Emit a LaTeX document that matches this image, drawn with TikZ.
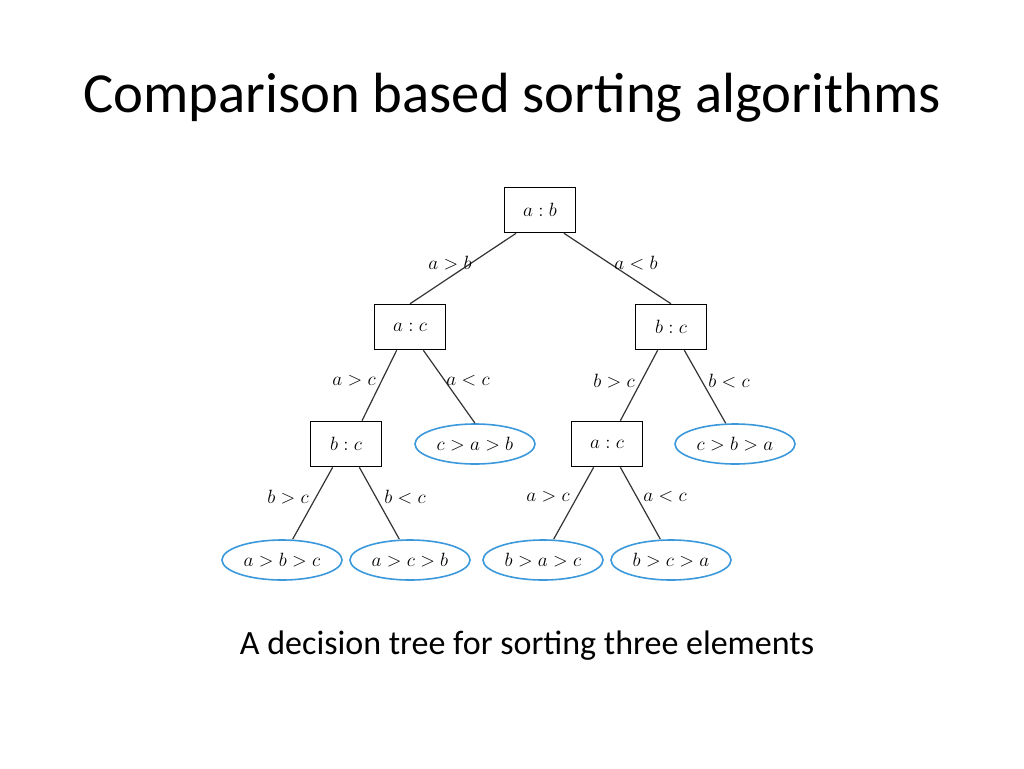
\documentclass[tikz,border=0pt]{standalone}
\usepackage{fontspec}
\setmainfont{Carlito}
\usetikzlibrary{shapes.geometric}
\begin{document}
\begin{tikzpicture}[x=0.75pt,y=-0.75pt,
  box/.style={draw,line width=0.9pt,minimum width=53pt,minimum height=34pt,inner sep=1pt,font=\fontsize{14}{16}\selectfont},
  leaf/.style={draw=cyan!70!blue!80,line width=1.2pt,ellipse,minimum width=90pt,minimum height=30pt,inner sep=0pt,font=\fontsize{14}{16}\selectfont},
  lab/.style={font=\fontsize{14}{16}\selectfont,inner sep=1pt},
  edge/.style={line width=0.9pt,draw=black!80}]
\useasboundingbox (0,0) rectangle (1024,768);
\node[font=\fontsize{42.5}{50}\selectfont] (title) at (512,98) {Comparison based sorting algorithms};
\node (r) [box] at (540,210) {$a:b$};
\node (l) [box] at (410,327) {$a:c$};
\node (rr) [box] at (671,327) {$b:c$};
\node (ll) [box] at (346,444) {$b:c$};
\node (lr) [leaf] at (475,444) {$c>a>b$};
\node (rl) [box] at (607,444) {$a:c$};
\node (rrr) [leaf] at (735,444) {$c>b>a$};
\node (l1) [leaf] at (282,560) {$a>b>c$};
\node (l2) [leaf] at (410,560) {$a>c>b$};
\node (l3) [leaf] at (543,560) {$b>a>c$};
\node (l4) [leaf] at (671,560) {$b>c>a$};
\draw[edge] (r.south west)++(12,0) -- ([xshift=27]l.north west);
\draw[edge] (r.south east)++(-12,0) -- ([xshift=-27]rr.north east);
\draw[edge] ([xshift=-10]l.south) -- ([xshift=12]ll.north);
\draw[edge] ([xshift=10]l.south) -- (lr.north);
\draw[edge] ([xshift=-10]rr.south) -- ([xshift=10]rl.north);
\draw[edge] ([xshift=10]rr.south) -- ([xshift=-7]rrr.north);
\draw[edge] ([xshift=-10]ll.south) -- ([xshift=8]l1.north);
\draw[edge] ([xshift=10]ll.south) -- ([xshift=-8]l2.north);
\draw[edge] ([xshift=-10]rl.south) -- ([xshift=8]l3.north);
\draw[edge] ([xshift=10]rl.south) -- ([xshift=-8]l4.north);
\node[lab] (e1) at (450,263) {$a>b$};
\node[lab] (e2) at (636,263) {$a<b$};
\node[lab] (e3) at (354,381) {$a>c$};
\node[lab] (e4) at (468,381) {$a<c$};
\node[lab] (e5) at (614,381) {$b>c$};
\node[lab] (e6) at (729,381) {$b<c$};
\node[lab] (e7) at (288,497) {$b>c$};
\node[lab] (e8) at (405,497) {$b<c$};
\node[lab] (e9) at (548,497) {$a>c$};
\node[lab] (e10) at (665,497) {$a<c$};
\node[font=\fontsize{25.5}{30}\selectfont] (cap) at (527,646) {A decision tree for sorting three elements};
\end{tikzpicture}
\end{document}
